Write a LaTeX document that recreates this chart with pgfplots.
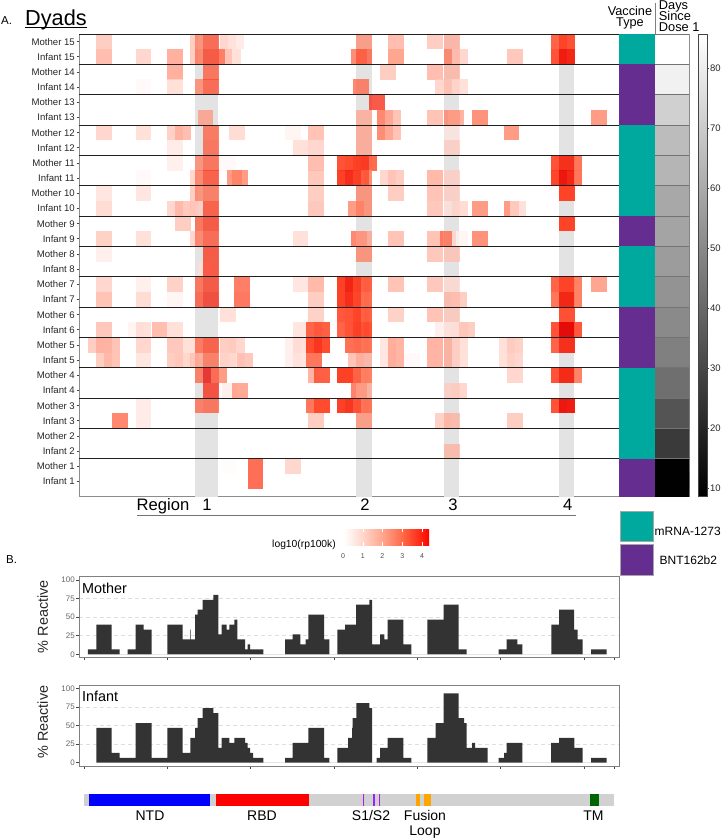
\documentclass[border=0pt]{standalone}
\usepackage{fontspec}
\setmainfont{Liberation Sans}
\usepackage{pgfplots}
\pgfplotsset{compat=1.18}

\newcommand\fs[1]{\fontsize{#1}{#1}\selectfont}
\definecolor{mrna}{HTML}{00A99D}
\definecolor{bnt}{HTML}{662D91}
\definecolor{band}{HTML}{E3E3E3}
\definecolor{frame}{HTML}{808080}
\definecolor{tickc}{HTML}{444444}
\definecolor{area}{HTML}{333333}
\definecolor{cleave}{HTML}{A020F0}
\definecolor{fusion}{HTML}{FFA500}
\definecolor{r0}{HTML}{FFFFFF}
\definecolor{r1}{HTML}{FFD6CA}
\definecolor{r2}{HTML}{FFA68E}
\definecolor{r3}{HTML}{FF6A48}
\definecolor{r4}{HTML}{FF2010}
\definecolor{r5}{HTML}{FF0000}

% tile positions: x is the left edge along the protein (sketch scale), y the row
\pgfdeclareplotmark{tile}{\pgfpathrectangle{\pgfpoint{0pt}{-7.6pt}}{\pgfpoint{15.6pt}{15.2pt}}\pgfusepathqfill}
\pgfdeclareplotmark{half}{\pgfpathrectangle{\pgfpoint{0pt}{-7.6pt}}{\pgfpoint{8pt}{15.2pt}}\pgfusepathqfill}
\pgfdeclareplotmark{dyad}{\pgfpathrectangle{\pgfpoint{-20pt}{-15.17pt}}{\pgfpoint{40pt}{30.34pt}}\pgfusepathqfill}

\pgfplotsset{
  heatbase/.style={scale only axis, ymin=0.04, ymax=30.5, height=462pt, clip marker paths=true},
  panel/.style={
    scale only axis, width=540.5pt, xmin=79, xmax=619.5,
    axis line style={draw=frame, line width=.8pt},
    xtick={84,167.3,250.7,334,417.3,500.7,584,614.4},
    xticklabels={},
    ytick={25,50,75},
    extra y ticks={0,100},
    extra y tick style={grid=none},
    ymajorgrids,
    grid style={dash pattern=on 4pt off 3pt, black!13, line width=.6pt},
    xtick pos=left, ytick pos=left, tick align=outside,
    major tick length=2.5pt,
    tick style={tickc, line width=.6pt},
    /pgf/number format/assume math mode=true,
    tick label style={font=\fs{8}, text=black!60, inner sep=1.5pt},
  },
}

\begin{document}
\begin{tikzpicture}
\useasboundingbox (0pt,-839pt) rectangle (721pt,0pt);

% heat map
\begin{axis}[heatbase, at={(79pt,-496pt)}, anchor=south west, width=540pt,
  xmin=79, xmax=619,
  axis line style={draw=black!45, line width=.8pt},
  xtick=\empty,
  ytick={1,...,30},
  yticklabels={Infant 1,Mother 1,Infant 2,Mother 2,Infant 3,Mother 3,Infant 4,Mother 4,Infant 5,Mother 5,Infant 6,Mother 6,Infant 7,Mother 7,Infant 8,Mother 8,Infant 9,Mother 9,Infant 10,Mother 10,Infant 11,Mother 11,Infant 12,Mother 12,Infant 13,Mother 13,Infant 14,Mother 14,Infant 15,Mother 15},
  ytick pos=left, tick align=outside, major tick length=2.5pt,
  tick style={tickc, line width=.6pt},
  yticklabel style={font=\fs{9.6}, text=black!85, inner sep=1.5pt},
  colormap={reds}{rgb255(0pt)=(255,255,255) rgb255(10pt)=(255,190,175) rgb255(20pt)=(255,125,95) rgb255(30pt)=(255,60,30) rgb255(40pt)=(235,8,0) rgb255(43pt)=(230,0,0)},
  point meta min=0, point meta max=4.3,
]
\addplot[fill=band, draw=none] coordinates {(195,0)(218.3,0)(218.3,30.5)(195,30.5)} -- cycle;
\addplot[fill=band, draw=none] coordinates {(356,0)(371.7,0)(371.7,30.5)(356,30.5)} -- cycle;
\addplot[fill=band, draw=none] coordinates {(444,0)(459,0)(459,30.5)(444,30.5)} -- cycle;
\addplot[fill=band, draw=none] coordinates {(559,0)(574,0)(574,30.5)(559,30.5)} -- cycle;
% full width tiles
\addplot[scatter, only marks, mark=tile, scatter src=explicit,
  scatter/use mapped color={fill=mapped color, fill opacity=.76}]
  table[row sep=\\, meta=v] {
L r v\\
96.3 30 1.0\\ 203 30 2.8\\ 220 30 .8\\ 228 30 .4\\ 356 30 1.8\\ 388 30 1.3\\ 427 30 1.0\\ 444 30 1.3\\
96.3 29 1.3\\ 135.7 29 .8\\ 167.3 29 1.6\\ 203 29 3.2\\ 216.5 29 2.6\\ 225 29 .6\\ 351 29 2.3\\ 356 29 2.6\\ 388 29 1.8\\ 444 29 2.2\\ 452 29 .8\\ 507 29 1.1\\
167.3 28 1.6\\ 203 28 2.6\\ 380 28 1.0\\ 427 28 1.3\\ 444 28 1.2\\
135.7 27 .1\\ 167.3 27 .6\\ 203 27 2.8\\ 353 27 2.4\\ 435 27 .8\\ 444 27 1.0\\ 452 27 .6\\
369 26 3.4\\
197.7 25 1.6\\ 356 25 1.4\\ 377 25 2.4\\ 385 25 1.2\\ 427 25 1.2\\ 444 25 2.0\\ 448 25 1.5\\ 472 25 2.2\\ 591 25 2.0\\
96.3 24 .8\\ 135.7 24 .6\\ 167.3 24 .9\\ 175 24 1.3\\ 203 24 2.5\\ 229.3 24 .7\\ 285 24 .2\\ 308.3 24 1.2\\ 356 24 1.5\\ 377 24 2.3\\ 385 24 1.2\\ 444 24 .4\\ 503.7 24 2.0\\
167.3 23 .4\\ 203 23 2.6\\ 292.7 23 .6\\ 308.3 23 .8\\ 356 23 1.5\\ 444 23 .8\\
167.3 22 .3\\ 203 22 2.6\\ 220 22 .1\\ 308.3 22 1.3\\
135.7 21 .1\\ 203 21 3.0\\ 226.7 21 2.0\\ 232 21 2.0\\ 308.3 21 1.1\\ 380 21 .8\\ 388 21 1.0\\ 427 21 1.4\\ 444 21 .8\\
96.3 20 .5\\ 135.7 20 .5\\ 203 20 2.4\\ 308.3 20 1.0\\ 356 20 2.0\\ 388 20 1.0\\ 427 20 1.2\\ 444 20 .8\\
96.3 19 .7\\ 167.3 19 .8\\ 175 19 1.2\\ 183 19 .8\\ 203 19 3.0\\ 308.3 19 1.1\\ 348 19 2.0\\ 356 19 2.0\\ 427 19 1.1\\ 444 19 .5\\ 452 19 .7\\ 472 19 2.0\\ 503.7 19 2.0\\ 510 19 .6\\
175 18 1.0\\ 203 18 3.2\\
96.3 17 .9\\ 135.7 17 .6\\ 203 17 2.8\\ 292.7 17 .6\\ 351 17 2.4\\ 356 17 1.5\\ 388 17 1.2\\ 427 17 1.2\\ 440 17 2.4\\ 452 17 .2\\ 472 17 2.2\\
96.3 16 .3\\ 203 16 3.2\\ 356 16 2.0\\ 427 16 1.1\\ 444 16 1.0\\
198 15 .5\\ 203 15 3.2\\
96.3 14 .8\\ 135.7 14 .3\\ 167.3 14 .9\\ 203 14 3.2\\ 234.3 14 2.6\\ 292.7 14 .5\\ 308.3 14 1.4\\ 388 14 1.2\\ 427 14 1.1\\ 444 14 .6\\ 591 14 1.8\\
96.3 13 1.2\\ 135.7 13 .7\\ 167.3 13 .2\\ 203 13 3.5\\ 234.3 13 2.7\\ 308.3 13 1.0\\ 444 13 1.2\\ 451 13 1.0\\
220 12 .6\\ 308.3 12 .9\\ 388 12 .9\\ 427 12 1.2\\ 444 12 .9\\
96.3 11 1.1\\ 128 11 .2\\ 135.7 11 .6\\ 151.7 11 1.3\\ 167.3 11 .6\\ 292.7 11 .5\\ 435 11 .3\\ 444 11 .5\\ 452 11 .5\\ 459 11 1.0\\
88 10 1.0\\ 96.3 10 1.3\\ 104 10 1.2\\ 135.7 10 .8\\ 167.3 10 1.1\\ 183 10 .6\\ 203 10 3.0\\ 220 10 1.0\\ 229.3 10 .8\\ 285 10 .3\\ 292.7 10 .6\\ 380 10 .5\\ 388 10 1.5\\ 427 10 1.5\\ 444 10 1.4\\ 452 10 .6\\ 499 10 .6\\ 507 10 .9\\
96.3 9 1.0\\ 104 9 1.2\\ 135.7 9 .5\\ 167.3 9 1.0\\ 175 9 .9\\ 183 9 .6\\ 203 9 2.4\\ 220 9 .9\\ 229 9 .6\\ 237.3 9 1.1\\ 285 9 .3\\ 292.7 9 .5\\ 348 9 1.2\\ 356 9 1.3\\ 380 9 .5\\ 388 9 1.5\\ 404 9 .1\\ 427 9 1.5\\ 444 9 1.4\\ 452 9 .6\\ 499 9 .6\\ 507 9 .8\\
203 8 4.2\\ 211 8 2.0\\ 507 8 .8\\
203 7 3.4\\ 221.7 7 .3\\ 232 7 1.7\\ 351 7 2.5\\ 356 7 1.4\\ 444 7 .8\\ 451 7 .8\\
135.7 6 .4\\ 203 6 2.6\\
112 5 2.4\\ 135.7 5 .4\\ 308.3 5 1.0\\ 356 5 1.8\\ 435 5 .9\\ 444 5 1.2\\ 507 5 1.0\\
444 3 1.2\\
221.7 2 .05\\ 247.7 2 2.9\\ 285 2 .8\\
247.7 1 2.9\\
};
% half width strips at the edge of region 1
\addplot[scatter, only marks, mark=half, scatter src=explicit,
  scatter/use mapped color={fill=mapped color, fill opacity=.76}]
  table[row sep=\\, meta=v] {
L r v\\
190.3 30 1.0\\ 195 30 2.0\\ 190.3 29 1.0\\ 195 29 2.2\\ 195 27 2.0\\ 195 22 2.0\\ 190.3 21 .8\\ 195 21 2.2\\ 190.3 20 1.0\\ 195 20 2.0\\ 190.3 19 1.0\\ 195 19 .8\\ 195 18 2.6\\ 190.3 17 .8\\ 195 17 2.2\\ 195 14 2.6\\ 195 13 2.8\\ 195 10 2.5\\ 190.3 9 1.0\\ 195 9 1.5\\ 195 8 2.4\\ 195 6 2.4\\
};
% half width strips in the strongest regions
\addplot[scatter, only marks, mark=half, scatter src=explicit,
  scatter/use mapped color={fill=mapped color, fill opacity=.95}]
  table[row sep=\\, meta=v] {
L r v\\
337.3 22 2.8\\ 345.3 22 2.9\\ 353.3 22 3.1\\ 361 22 3.2\\ 369 22 2.4\\
337.3 21 3.1\\ 345.3 21 3.5\\ 353.3 21 3.1\\ 364 21 1.8\\ 361 21 2.6\\
337.3 14 3.1\\ 345.3 14 3.7\\ 353.3 14 3.1\\ 364 14 2.5\\ 361 14 2.5\\
337.3 13 3.1\\ 345.3 13 3.5\\ 353.3 13 3.0\\ 364 13 2.3\\ 361 13 2.3\\
337.3 12 2.7\\ 345.3 12 2.8\\ 353.3 12 3.0\\ 364 12 2.5\\ 361 12 2.5\\
337.3 11 2.5\\ 345.3 11 2.8\\ 353.3 11 3.1\\ 364 11 2.8\\ 361 11 2.8\\
345.3 10 2.3\\ 353.3 10 2.4\\ 364 10 2.2\\ 361 10 2.2\\
337.3 8 3.1\\ 345.3 8 3.1\\ 353.3 8 2.5\\ 364 8 2.0\\ 361 8 2.0\\
337.3 6 3.1\\ 345.3 6 3.3\\ 353.3 6 2.8\\ 364 6 2.2\\ 361 6 2.2\\
305.7 11 2.5\\ 313.7 11 2.7\\ 321.5 11 2.6\\
305.7 10 2.9\\ 313.7 10 3.3\\ 321.5 10 2.9\\
305.7 9 2.2\\ 313.7 9 2.2\\
308.3 8 1.2\\ 313.7 8 2.6\\ 321.5 8 2.6\\
305.7 6 2.2\\ 313.7 6 2.9\\ 321.5 6 2.9\\
551 30 2.5\\ 559 30 3.0\\ 566.7 30 2.8\\
551 29 2.8\\ 559 29 3.8\\ 566.7 29 3.6\\
551 22 2.8\\ 559 22 3.4\\ 566.7 22 3.4\\ 574.4 22 2.2\\
551 21 3.0\\ 559 21 3.9\\ 566.7 21 3.6\\ 574.4 21 2.2\\
559 20 3.0\\ 566.7 20 3.0\\ 559 18 3.0\\ 566.7 18 3.0\\
551 14 2.5\\ 559 14 3.0\\ 566.7 14 3.0\\ 574.4 14 2.0\\
551 13 2.2\\ 559 13 3.6\\ 566.7 13 3.6\\ 574.4 13 2.0\\
559 12 2.8\\ 566.7 12 2.8\\
551 11 2.8\\ 559 11 4.3\\ 566.7 11 4.3\\ 574.4 11 2.7\\
551 10 2.5\\ 559 10 3.4\\ 566.7 10 3.4\\
551 8 2.8\\ 559 8 3.5\\ 566.7 8 3.5\\ 574.4 8 2.0\\
551 6 2.8\\ 559 6 3.9\\ 566.7 6 3.8\\
};
\end{axis}

% vaccine type column
\begin{axis}[heatbase, at={(619pt,-496pt)}, anchor=south west, width=36pt,
  xmin=0, xmax=1, axis line style={draw=none}, xtick=\empty, ytick=\empty]
\addplot[only marks, mark=dyad, mark options={fill=mrna}] coordinates {(.5,5.5)(.5,7.5)(.5,3.5)(.5,15.5)(.5,13.5)(.5,19.5)(.5,21.5)(.5,23.5)(.5,29.5)};
\addplot[only marks, mark=dyad, mark options={fill=bnt}] coordinates {(.5,1.5)(.5,.6)(.5,9.5)(.5,11.5)(.5,17.5)(.5,25.5)(.5,27.5)};
\end{axis}

% days since dose 1 column
\begin{axis}[heatbase, at={(655pt,-496pt)}, anchor=south west, width=34pt,
  xmin=0, xmax=1, axis line style={draw=frame, line width=.6pt}, xtick=\empty, ytick=\empty,
  colormap/blackwhite, point meta min=8.7, point meta max=85.7]
\addplot[scatter, only marks, mark=dyad, scatter src=explicit,
  scatter/use mapped color={fill=mapped color}]
  table[row sep=\\, meta=d] {
x y d\\
.5 .6 9\\ .5 1.5 9\\ .5 3.5 26\\ .5 5.5 34\\ .5 7.5 42\\ .5 9.5 47\\ .5 11.5 50\\ .5 13.5 52.7\\ .5 15.5 55.6\\ .5 17.5 58\\ .5 19.5 59\\ .5 21.5 63\\ .5 23.5 65\\ .5 25.5 71\\ .5 27.5 81\\ .5 29.5 85.7\\
};
\end{axis}

% dyad separators
\begin{axis}[heatbase, at={(79pt,-496pt)}, anchor=south west, width=610pt,
  xmin=79, xmax=689, hide axis]
\pgfplotsinvokeforeach{2.5,4.5,6.5,8.5,10.5,12.5,14.5,16.5,18.5,20.5,22.5,24.5,26.5,28.5,30.5}{
  \addplot[black!88, line width=.8pt, forget plot] coordinates {(79,#1)(619,#1)};
  \addplot[black!55, line width=.6pt, forget plot] coordinates {(655,#1)(689,#1)};
}
\end{axis}

% days colour bar
\begin{axis}[scale only axis, at={(698pt,-496pt)}, anchor=south west, width=9pt, height=462pt,
  xmin=0, xmax=1, ymin=8.7, ymax=85.7,
  axis line style={draw=tickc, line width=.6pt},
  xtick=\empty, ytick={10,20,...,80},
  ytick pos=right, yticklabel pos=right, tick align=outside, major tick length=1.5pt,
  tick style={tickc},
  /pgf/number format/assume math mode=true,
  tick label style={font=\fs{9.5}, text=black!85, inner sep=1.5pt},
  axis on top]
\path[bottom color=black, top color=white, shading=axis] (axis cs:0,8.7) rectangle (axis cs:1,85.7);
\end{axis}

% percent reactive panels
\begin{axis}[panel, at={(79pt,-657.3pt)}, anchor=south west, height=81.3pt, ymin=-4, ymax=105.3]
\addplot[const plot, fill=area, draw=none] coordinates {
(88,6.67)(96.3,40)(111.7,6.67)(119.7,0)(127.7,6.67)(135.7,40)(143.7,33.3)(151.7,0)(167.3,40)(182.7,20)(190,33.3)(190.7,20)(195,53.3)(197.7,60)(202.7,73.3)(213.3,80)(218.3,26.7)(221.7,40)(226.7,33.3)(229.3,40)(234.3,46.7)(237.3,20)(245,6.67)(247.7,13.3)(250,6.67)(263.3,0)(285,20)(292.7,26.7)(300.3,13.3)(305.7,20)(308.3,53.3)(324,20)(329.3,0)(337.3,33.3)(345,40)(356,66.7)(369.3,73.3)(372,13.3)(380,26.7)(384.3,20)(387.7,46.7)(403.3,13.3)(411.3,0)(427.3,46.7)(443.7,66.7)(458.7,6.67)(466.7,0)(498.7,6.67)(506.7,20)(517.3,13.3)(522.3,0)(551.3,40)(559,60)(574,33.3)(577.7,20)(582.7,0)(591,6.67)(606.7,0)
} \closedcycle;
\end{axis}
\begin{axis}[panel, at={(79pt,-766pt)}, anchor=south west, height=80.3pt, ymin=-4.4, ymax=103.5]
\addplot[const plot, fill=area, draw=none] coordinates {
(96.3,46.7)(111.7,13.3)(119.7,6.67)(135.7,53.3)(151.7,6.67)(167.3,46.7)(182.7,13.3)(190.3,33.3)(195,46.7)(197.7,60)(202.7,73.3)(213.3,66.7)(218.3,20)(221.7,33.3)(229.3,26.7)(234.3,33.3)(245,26.7)(247.7,20)(250,13.3)(253,6.67)(263.3,0)(285,6.67)(292.7,26.7)(308.3,46.7)(324,6.67)(329.3,0)(337.3,20)(348,33.3)(352,46.7)(352.7,60)(356.3,80)(369.3,73.3)(372,0)(376.7,6.67)(380,20)(387.7,33.3)(403.3,6.67)(411.3,0)(427.3,33.3)(435.7,53.3)(443.7,93.3)(458.7,60)(464,53.3)(466.7,20)(472,26.7)(475,20)(487.7,0)(498.7,6.67)(504,13.3)(506.7,26.7)(522.3,0)(551,26.7)(559,33.3)(574.3,20)(582.7,0)(591,6.67)(606.7,0)
} \closedcycle;
\end{axis}

% domain bar
\begin{axis}[scale only axis, at={(84pt,-806pt)}, anchor=south west, width=530.4pt, height=11.7pt,
  xmin=84, xmax=614.4, ymin=0, ymax=1, hide axis]
\addplot[fill=black!18, draw=none] coordinates {(84,0)(614.4,0)(614.4,1)(84,1)} -- cycle;
\addplot[fill=blue, draw=none] coordinates {(89,0)(210.3,0)(210.3,1)(89,1)} -- cycle;
\addplot[fill=red, draw=none] coordinates {(216.3,0)(309,0)(309,1)(216.3,1)} -- cycle;
\addplot[fill=cleave, draw=none] coordinates {(363.2,0)(364.2,0)(364.2,1)(363.2,1)} -- cycle;
\addplot[fill=cleave, draw=none] coordinates {(372.7,0)(374.7,0)(374.7,1)(372.7,1)} -- cycle;
\addplot[fill=cleave, draw=none] coordinates {(378.8,0)(379.8,0)(379.8,1)(378.8,1)} -- cycle;
\addplot[fill=fusion, draw=none] coordinates {(416.3,0)(420,0)(420,1)(416.3,1)} -- cycle;
\addplot[fill=fusion, draw=none] coordinates {(424,0)(431,0)(431,1)(424,1)} -- cycle;
\addplot[fill=green!40!black, draw=none] coordinates {(590,0)(599,0)(599,1)(590,1)} -- cycle;
\end{axis}

% text, legends and rules, in picture pixels from the top left
\begin{scope}[x=1pt, y=-1pt, every node/.style={inner sep=0pt, text=black}]
\node[anchor=base west, font=\fs{11.5}] at (1,24.7) {A.};
\node[anchor=base west, font=\fs{11.5}] at (6,563) {B.};
\node[anchor=base west, font=\fs{21.7}] at (25,25) {Dyads};
\draw[line width=1pt] (25,27.5) -- (87,27.5);

\node[anchor=base, font=\fs{12.7}] at (630,15.7) {Vaccine};
\node[anchor=base, font=\fs{12.7}] at (630,26.5) {Type};
\node[anchor=base west, font=\fs{12.8}] at (658.7,9) {Days};
\node[anchor=base west, font=\fs{12.8}] at (658.7,20) {Since};
\node[anchor=base west, font=\fs{12.8}] at (658.7,31) {Dose 1};
\draw[frame, line width=.6pt] (655.3,3) -- (655.3,34);

\node[anchor=base west, font=\fs{16.6}] at (136.5,510.7) {Region};
\node[anchor=base, font=\fs{16.6}] at (207,510.7) {1};
\node[anchor=base, font=\fs{16.6}] at (365,510.7) {2};
\node[anchor=base, font=\fs{16.6}] at (453,510.7) {3};
\node[anchor=base, font=\fs{16.6}] at (567.7,510.7) {4};
\draw[black!55, line width=1pt] (137,515) -- (575.7,515);

\node[anchor=base east, font=\fs{10.3}] at (336,547) {log10(rp100k)};
\shade[left color=r0, right color=r1] (344,529) rectangle (362.9,545.7);
\shade[left color=r1, right color=r2] (362.7,529) rectangle (382.6,545.7);
\shade[left color=r2, right color=r3] (382.4,529) rectangle (402.4,545.7);
\shade[left color=r3, right color=r4] (402.2,529) rectangle (422.2,545.7);
\shade[left color=r4, right color=r5] (422,529) rectangle (429,545.7);
\foreach \x/\l in {343/0,362.7/1,382.4/2,402.2/3,422/4}{
  \node[anchor=base, font=\fs{7}, text=black!70] at (\x,558) {\l};
}
\foreach \x in {362.7,382.4,402.2,422}{
  \draw[white, line width=.4pt] (\x,529) -- (\x,532.3) (\x,542.4) -- (\x,545.7);
}

\filldraw[fill=mrna, draw=black!35, line width=.6pt] (620,511) rectangle (653,541);
\filldraw[fill=bnt, draw=black!35, line width=.6pt] (620,544.5) rectangle (653,575);
\node[anchor=base west, font=\fs{12}] at (654.5,535) {mRNA-1273};
\node[anchor=base west, font=\fs{12}] at (659.5,564.5) {BNT162b2};

\node[rotate=90, font=\fs{14.4}, text=black!85] at (42.7,616.7) {\% Reactive};
\node[rotate=90, font=\fs{14.4}, text=black!85] at (42.7,722) {\% Reactive};
\node[anchor=base west, font=\fs{14.4}] at (82,593) {Mother};
\node[anchor=base west, font=\fs{14.4}] at (82,701) {Infant};

\node[anchor=base, font=\fs{14}] at (150,820) {NTD};
\node[anchor=base, font=\fs{14}] at (262,820) {RBD};
\node[anchor=base, font=\fs{14}] at (371,820) {S1/S2};
\node[anchor=base, font=\fs{14}] at (425,820) {Fusion};
\node[anchor=base, font=\fs{14}] at (425,835) {Loop};
\node[anchor=base, font=\fs{14}] at (593.5,820) {TM};
\end{scope}
\end{tikzpicture}
\end{document}
